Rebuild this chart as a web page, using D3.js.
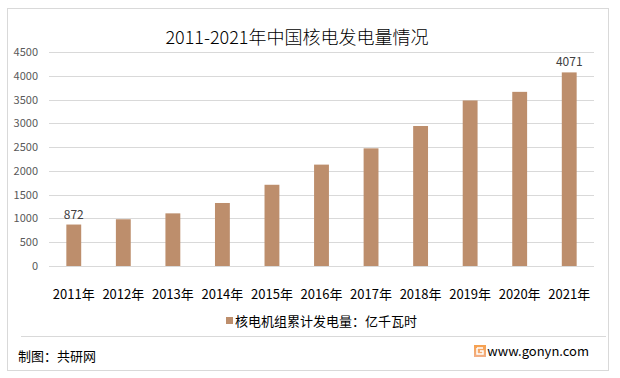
<!DOCTYPE html>
<html>
<head>
<meta charset="utf-8">
<script src="https://cdn.jsdelivr.net/npm/d3@7"></script>
<style>
  body { margin: 0; background: #fff; }
  text { font-family: "Microsoft YaHei", "Noto Sans CJK SC", sans-serif; }
</style>
</head>
<body>
<div id="chart"></div>
<script>
const years = ["2011年", "2012年", "2013年", "2014年", "2015年", "2016年", "2017年", "2018年", "2019年", "2020年", "2021年"];
const output = [872, 983, 1107, 1325, 1708, 2132, 2474, 2944, 3481, 3662, 4071];
const yTicks = [0, 500, 1000, 1500, 2000, 2500, 3000, 3500, 4000, 4500];
const labelled = ["2011年", "2021年"];

const width = 620, height = 378;
const svg = d3.select("#chart").append("svg")
  .attr("width", width)
  .attr("height", height);

// outer frame
svg.append("rect")
  .attr("x", 7.5).attr("y", 8.5)
  .attr("width", 601).attr("height", 362)
  .attr("fill", "#fff")
  .attr("stroke", "#d9d9d9");

svg.append("text")
  .attr("x", 297).attr("y", 44)
  .attr("text-anchor", "middle")
  .attr("font-size", "18px")
  .attr("font-weight", 300)
  .attr("fill", "#000")
  .text("2011-2021年中国核电发电量情况");

const x = d3.scaleBand().domain(years).range([49, 594]).paddingInner(0.7).paddingOuter(0.35);
const y = d3.scaleLinear().domain([0, 4500]).range([266, 52]);

// gridlines
svg.append("g").selectAll("line")
  .data(yTicks)
  .enter().append("line")
  .attr("x1", 49).attr("x2", 594)
  .attr("y1", d => Math.round(y(d)) + 0.5)
  .attr("y2", d => Math.round(y(d)) + 0.5)
  .attr("stroke", "#d9d9d9");

svg.append("g").selectAll("text")
  .data(yTicks)
  .enter().append("text")
  .attr("x", 38)
  .attr("y", d => y(d) + 4)
  .attr("text-anchor", "end")
  .attr("font-size", "11px")
  .attr("fill", "#595959")
  .text(d => d);

svg.append("g").selectAll("rect")
  .data(output)
  .enter().append("rect")
  .attr("x", (d, i) => x(years[i]))
  .attr("width", x.bandwidth())
  .attr("y", d => y(d))
  .attr("height", d => y(0) - y(d))
  .attr("fill", "#bd8e6c");

// value labels on first and last bar
const labelData = years.map((yr, i) => ({ year: yr, value: output[i] }))
  .filter(d => labelled.includes(d.year));
svg.append("g").selectAll("text")
  .data(labelData)
  .enter().append("text")
  .attr("x", d => x(d.year) + x.bandwidth() / 2)
  .attr("y", d => y(d.value) - 6)
  .attr("text-anchor", "middle")
  .attr("font-size", "12px")
  .attr("fill", "#404040")
  .text(d => d.value);

// x labels
svg.append("g").selectAll("text")
  .data(years)
  .enter().append("text")
  .attr("x", d => x(d) + x.bandwidth() / 2)
  .attr("y", 299)
  .attr("text-anchor", "middle")
  .attr("font-size", "13px")
  .attr("fill", "#000")
  .text(d => d);

// legend
svg.append("rect")
  .attr("x", 226).attr("y", 317)
  .attr("width", 7).attr("height", 7)
  .attr("fill", "#bd8e6c");
svg.append("text")
  .attr("x", 235).attr("y", 326)
  .attr("font-size", "13px")
  .attr("fill", "#000")
  .text("核电机组累计发电量：亿千瓦时");

// footer
svg.append("line")
  .attr("x1", 21).attr("x2", 606)
  .attr("y1", 336.5).attr("y2", 336.5)
  .attr("stroke", "#d9d9d9");
svg.append("text")
  .attr("x", 18).attr("y", 361)
  .attr("font-size", "13px")
  .attr("fill", "#000")
  .text("制图：共研网");

const grad = svg.append("defs").append("linearGradient")
  .attr("id", "logo").attr("x1", 0).attr("y1", 0).attr("x2", 0).attr("y2", 1);
grad.append("stop").attr("offset", "0%").attr("stop-color", "#f6a04d");
grad.append("stop").attr("offset", "100%").attr("stop-color", "#f2b088");
svg.append("rect")
  .attr("x", 474).attr("y", 345)
  .attr("width", 12).attr("height", 12)
  .attr("fill", "url(#logo)");
svg.append("path")
  .attr("d", "M477,348 h6 M477,348 v6 h6 v-3 h-3")
  .attr("fill", "none")
  .attr("stroke", "#fff")
  .attr("stroke-width", 1.5);
svg.append("text")
  .attr("x", 589).attr("y", 356)
  .attr("text-anchor", "end")
  .attr("font-size", "13px")
  .attr("fill", "#000")
  .text("www.gonyn.com");
</script>
</body>
</html>
